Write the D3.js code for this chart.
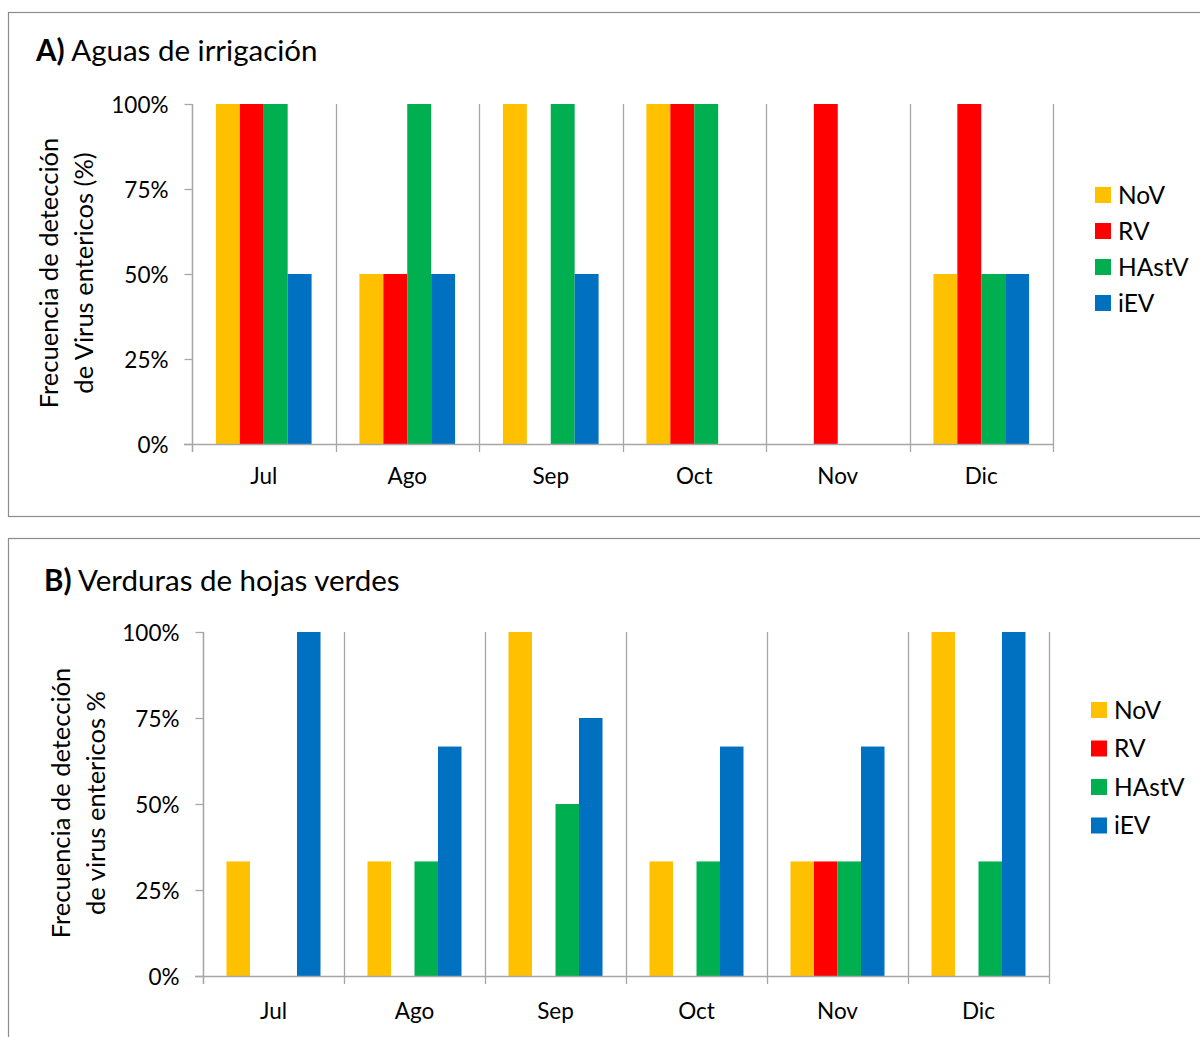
<!DOCTYPE html>
<html>
<head>
<meta charset="utf-8">
<script src="https://cdn.jsdelivr.net/npm/d3@7"></script>
<style>
  html, body { margin: 0; padding: 0; background: #fff; }
  svg { display: block; font-family: Lato, "Open Sans", sans-serif; }
</style>
</head>
<body>
<svg id="chart" width="1200" height="1037"></svg>
<script>
// Months sampled and virus groups
const months = ["Jul", "Ago", "Sep", "Oct", "Nov", "Dic"];
const viruses = ["NoV", "RV", "HAstV", "iEV"];
const virusColors = ["#FFC000", "#FF0000", "#00B050", "#0070C0"];
const yTicks = [0, 25, 50, 75, 100];
const yTickLabels = ["0%", "25%", "50%", "75%", "100%"];

// A) Irrigation water: detection frequency (%) per month
const waterNoV   = [100, 50, 100, 100, 0, 50];
const waterRV    = [100, 50, 0, 100, 100, 100];
const waterHAstV = [100, 100, 100, 100, 0, 50];
const waterIEV   = [50, 50, 50, 0, 0, 50];

// B) Leafy greens: detection frequency (%) per month
const greensNoV   = [33.3, 33.3, 100, 33.3, 33.3, 100];
const greensRV    = [0, 0, 0, 0, 33.3, 0];
const greensHAstV = [0, 33.3, 50, 33.3, 33.3, 33.3];
const greensIEV   = [100, 66.7, 75, 66.7, 66.7, 100];

const svg = d3.select("#chart");
const gridColor = "#A6A6A6";

function drawPanel(p) {
  const g = svg.append("g");

  // outer frame of the panel
  g.append("rect")
    .attr("x", p.box[0] + 0.5).attr("y", p.box[1] + 0.5)
    .attr("width", p.box[2]).attr("height", p.box[3])
    .attr("fill", "#fff").attr("stroke", "#8C8C8C").attr("stroke-width", 1.2);

  // title: bold label followed by regular text
  const t = g.append("text")
    .attr("x", p.titleX).attr("y", p.titleY)
    .attr("font-size", p.titleSize).attr("fill", "#000");
  t.append("tspan").attr("font-weight", "bold").text(p.titleTag);
  t.append("tspan").text(" " + p.title);

  const x = d3.scaleBand().domain(months).range([p.x0, p.x1]).padding(0);
  const y = d3.scaleLinear().domain([0, 100]).range([p.yBase, p.yTop]);
  const bw = x.bandwidth();
  const inner = d3.scaleBand().domain(viruses).range([bw / 6, bw * 5 / 6]).padding(0);

  // vertical separators between months
  const bounds = months.map(m => x(m)).concat([p.x1]);
  g.selectAll("line.sep").data(bounds).join("line")
    .attr("class", "sep")
    .attr("x1", d => Math.round(d) + 0.5).attr("x2", d => Math.round(d) + 0.5)
    .attr("y1", y(100)).attr("y2", p.yBase + 8)
    .attr("stroke", gridColor).attr("stroke-width", 1.3);

  // bars
  const rows = [];
  months.forEach((m, i) => {
    p.series.forEach((s, k) => {
      rows.push({ m, v: viruses[k], val: s[i], c: virusColors[k] });
    });
  });
  g.selectAll("rect.bar").data(rows.filter(d => d.val > 0)).join("rect")
    .attr("class", "bar")
    .attr("x", d => x(d.m) + inner(d.v))
    .attr("width", inner.bandwidth())
    .attr("y", d => y(d.val))
    .attr("height", d => y(0) - y(d.val))
    .attr("fill", d => d.c);

  // y axis
  const yAxis = d3.axisLeft(y).tickValues(yTicks)
    .tickFormat((d, i) => yTickLabels[i]).tickSize(8).tickPadding(16);
  const ya = g.append("g").attr("transform", `translate(${Math.round(p.x0) + 0.5},0)`).call(yAxis);
  ya.select(".domain").attr("stroke", gridColor).attr("stroke-width", 1.3)
    .attr("d", `M0,${y(100)}V${p.yBase + 8}`);
  ya.selectAll(".tick line").attr("stroke", gridColor).attr("stroke-width", 1.3);
  ya.selectAll(".tick text").attr("font-size", p.tickSize).attr("fill", "#000")
    .attr("font-family", "Lato, sans-serif").attr("dy", "0.36em");

  // x axis baseline
  g.append("line")
    .attr("x1", p.x0 - 8).attr("x2", p.x1)
    .attr("y1", Math.round(p.yBase) + 0.5).attr("y2", Math.round(p.yBase) + 0.5)
    .attr("stroke", gridColor).attr("stroke-width", 1.3);

  // month labels
  g.selectAll("text.month").data(months).join("text")
    .attr("class", "month")
    .attr("x", d => x(d) + bw / 2).attr("y", p.monthY)
    .attr("text-anchor", "middle").attr("font-size", p.tickSize)
    .attr("dy", "0.36em").text(d => d);

  // rotated y title, two lines
  const yt = g.append("text")
    .attr("transform", `translate(${p.yTitleX},${p.yTitleY}) rotate(-90)`)
    .attr("text-anchor", "middle").attr("font-size", p.yTitleSize);
  p.yTitle.forEach((line, i) => {
    yt.append("tspan").attr("x", 0).attr("dy", i === 0 ? 0 : p.yTitleGap).text(line);
  });

  // legend
  const lg = g.selectAll("g.leg").data(viruses).join("g")
    .attr("class", "leg")
    .attr("transform", (d, i) => `translate(${p.legX},${p.legY + i * p.legGap})`);
  lg.append("rect").attr("x", 0).attr("y", -8).attr("width", 16).attr("height", 16)
    .attr("fill", (d, i) => virusColors[i]);
  lg.append("text").attr("x", 23).attr("y", 0).attr("dy", "0.36em")
    .attr("font-size", p.legSize).text(d => d);
}

drawPanel({
  box: [8, 12, 1200, 504],
  titleTag: "A)", title: "Aguas de irrigación", titleX: 36, titleY: 61, titleSize: 29.5,
  x0: 192, x1: 1053, yTop: 104, yBase: 444,
  series: [waterNoV, waterRV, waterHAstV, waterIEV],
  tickSize: 22.5, monthY: 476,
  yTitle: ["Frecuencia de detección", "de Virus entericos (%)"],
  yTitleX: 58, yTitleY: 273, yTitleSize: 25.5, yTitleGap: 35,
  legX: 1095, legY: 195, legGap: 36, legSize: 24.5
});

drawPanel({
  box: [8, 538, 1200, 520],
  titleTag: "B)", title: "Verduras de hojas verdes", titleX: 44, titleY: 591, titleSize: 29.5,
  x0: 203, x1: 1049, yTop: 632, yBase: 976,
  series: [greensNoV, greensRV, greensHAstV, greensIEV],
  tickSize: 22.5, monthY: 1011,
  yTitle: ["Frecuencia de detección", "de virus entericos %"],
  yTitleX: 70, yTitleY: 803, yTitleSize: 25.5, yTitleGap: 35,
  legX: 1091, legY: 710, legGap: 38.5, legSize: 24.5
});
</script>
</body>
</html>
